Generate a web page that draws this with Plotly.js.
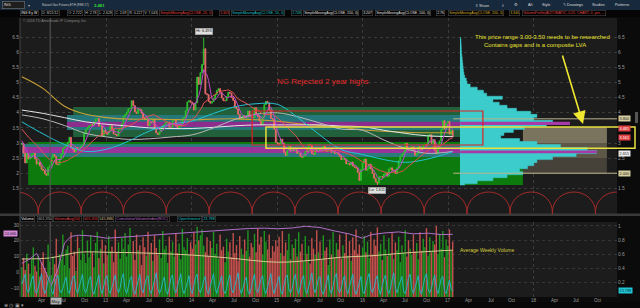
<!DOCTYPE html>
<html><head><meta charset="utf-8">
<script src="https://cdn.plot.ly/plotly-3.0.1.min.js"></script>
<style>html,body{margin:0;padding:0;background:#0b0b0b;overflow:hidden}#chart{width:640px;height:308px}</style>
</head><body><div id="chart"></div>
<script>
const W = 640, H = 308;
const FONT = 'Liberation Sans, Arial, sans-serif';

// ---------------- DATA ----------------
const startDate = '2012-01-06';
const priorCloses = [3.80,3.92,3.88,3.82,3.72,3.66,3.52,3.55,3.44,3.49,3.62,3.38,3.39,3.27,3.36,3.26,3.08,3.10,2.95];
const weeklyClose = [
 2.99,2.67,2.34,2.65, 2.47,2.51,2.63,2.66, 2.47,2.30,2.37,2.24,2.13, 2.09,1.98,1.93,2.19, 2.26,2.51,2.62,2.56, 2.30,2.28,2.50,2.63,2.82,
 2.87,2.91,3.02,3.19, 2.85,2.78,2.70,2.85,2.78, 2.83,2.90,2.94,3.32, 3.44,3.51,3.57,3.61, 3.58,3.66,3.79,3.81,3.56, 3.59,3.23,3.43,3.35,
 3.29,3.37,3.57,3.45, 3.30,3.28,3.23,3.43, 3.47,3.64,3.88,3.94,4.02, 4.13,4.14,4.40,4.24, 4.03,3.98,4.13,4.10,3.99, 3.82,3.77,3.79,3.57,
 3.70,3.67,3.79,3.48, 3.33,3.28,3.37,3.48,3.57, 3.63,3.68,3.69,3.52, 3.52,3.74,3.78,3.56, 3.50,3.55,3.63,3.80,3.84, 4.07,4.36,4.40,4.35,
 4.31,4.09,4.33,5.18,4.94, 5.33,5.60,6.12,4.63, 4.60,4.38,4.32,4.37, 4.47,4.60,4.74,4.80, 4.67,4.49,4.40,4.40,4.54, 4.68,4.65,4.51,4.41,
 4.18,4.13,3.95,3.78, 3.81,3.90,3.84,3.84,4.06, 3.87,3.86,3.84,4.17, 3.96,3.88,3.73,3.60,3.86, 4.27,4.38,4.33,4.09, 3.81,3.79,3.46,3.02,
 2.99,2.95,3.13,2.99,2.69, 2.58,2.76,2.89,2.73, 2.84,2.74,2.78,2.66, 2.67,2.56,2.53,2.56, 2.73,2.71,2.96,2.93,2.65, 2.62,2.79,2.75,2.78,
 2.77,2.75,2.89,2.79,2.72, 2.77,2.80,2.69,2.72, 2.65,2.68,2.63,2.56, 2.45,2.48,2.47,2.31,2.32, 2.27,2.37,2.24,2.20, 2.17,2.03,1.76,2.12,
 2.34,2.47,2.10,2.14,2.30, 2.14,1.99,1.83,1.71, 1.67,1.88,1.89,1.87, 1.97,2.00,1.90,2.14,2.18, 2.10,2.10,1.99,2.18, 2.41,2.56,2.62,2.70,
 2.99,2.80,2.76,2.78,2.88, 2.77,2.59,2.65,2.88, 2.80,2.78,2.94,2.96,2.90, 3.25,3.28,2.99,3.11, 2.76,2.64,2.84,3.07, 3.45,3.74,3.46,3.66,
 3.72,3.29,3.42,3.20
];
const highDate = '2014-02-21', highValue = 6.493;
const lowDate = '2016-03-04', lowValue = 1.611;

const weeklyVolume = [
 0.42,0.55,0.38,0.61,0.47,0.33,0.52,0.70,0.44,0.36,0.58,0.29,0.49,0.63,0.41,0.35,0.74,0.50,0.31,0.57,0.46,0.82,0.39,0.60,0.53,0.88,
 0.45,0.67,0.72,0.40,0.91,0.58,0.64,0.37,0.85,0.69,0.52,0.94,0.61,0.48,0.79,0.56,0.87,0.63,0.42,0.76,0.92,0.55,0.68,0.81,0.47,0.73,
 0.59,0.86,0.64,0.71,0.49,0.95,0.62,0.77,0.54,0.83,0.68,0.90,0.57,0.74,0.97,0.61,0.79,0.52,0.88,0.66,0.73,0.45,0.84,0.70,0.58,0.92,
 0.63,0.76,0.51,0.87,0.69,0.60,0.81,0.55,0.93,0.67,0.72,0.48,0.85,0.64,0.78,0.57,0.89,0.62,0.75,0.53,0.96,0.70,0.66,0.83,0.59,0.77,
 0.68,0.91,0.74,0.99,0.80,0.87,0.95,0.72,0.63,0.84,0.58,0.79,0.69,0.92,0.61,0.75,0.54,0.88,0.66,0.71,0.49,0.82,0.64,0.77,0.56,0.90,
 0.62,0.73,0.51,0.86,0.68,0.59,0.81,0.65,0.94,0.57,0.76,0.70,0.89,0.63,0.97,0.74,0.85,0.60,0.93,0.78,0.67,0.88,0.55,0.72,0.64,0.80,
 0.71,0.85,0.62,0.93,0.58,0.77,0.66,0.89,0.53,0.74,0.69,0.82,0.57,0.91,0.64,0.75,0.50,0.86,0.61,0.72,0.47,0.83,0.68,0.59,0.94,0.63,
 0.78,0.52,0.87,0.65,0.70,0.45,0.81,0.60,0.92,0.56,0.76,0.67,0.88,0.54,0.73,0.62,0.90,0.58,0.79,0.51,0.84,0.66,0.95,0.61,0.74,0.57,
 0.69,0.86,0.63,0.78,0.55,0.92,0.60,0.81,0.72,0.98,0.64,0.75,0.52,0.87,0.67,0.58,0.83,0.61,0.90,0.54,0.77,0.66,0.85,0.49,0.73,0.62,
 0.94,0.57,0.80,0.68,0.59,0.88,0.64,0.76,0.53,0.91,0.65,0.82,0.70,0.97,0.58,0.84,0.63,0.79,0.74,1.00,0.61,0.89,0.68,0.93,0.56,0.81,
 0.72,0.95,0.66,0.78
];
const openInterest = [
 0.18,0.27,0.32,0.10,0.06,0.14,0.25,0.30,0.09,0.05,0.13,0.22,0.33,0.12,0.05,0.11,0.24,0.29,0.08,0.04,0.15,0.26,0.31,0.10,0.06,0.12,
 0.21,0.28,0.09,0.05,0.16,0.27,0.30,0.11,0.05,0.13,0.23,0.32,0.10,0.06,0.14,0.25,0.29,0.08,0.04,0.12,0.22,0.31,0.11,0.05,0.15,0.26,
 0.30,0.09,0.05,0.14,0.24,0.31,0.12,0.06,0.13,0.27,0.33,0.10,0.05,0.16,0.25,0.29,0.08,0.04,0.12,0.23,0.32,0.11,0.06,0.15,0.26,0.30,
 0.09,0.05,0.13,0.24,0.34,0.12,0.05,0.11,0.22,0.28,0.08,0.04,0.14,0.27,0.31,0.10,0.06,0.15,0.25,0.33,0.11,0.05,0.12,0.23,0.30,0.09,
 0.05,0.16,0.28,0.32,0.10,0.06,0.13,0.24,0.29,0.08,0.04,0.15,0.26,0.33,0.12,0.05,0.14,0.22,0.30,0.09,0.05,0.11,0.25,0.31,0.10,0.06,
 0.16,0.27,0.34,0.11,0.05,0.13,0.23,0.28,0.08,0.04,0.12,0.24,0.32,0.10,0.06,0.15,0.26,0.30,0.09,0.05,0.14,0.25,0.33,0.12,0.05,0.13,
 0.22,0.29,0.08,0.04,0.16,0.27,0.31,0.10,0.06,0.12,0.24,0.32,0.11,0.05,0.15,0.25,0.30,0.09,0.05,0.13,0.23,0.34,0.12,0.06,0.14,0.26,
 0.29,0.08,0.04,0.11,0.22,0.31,0.10,0.05,0.16,0.28,0.33,0.11,0.06,0.13,0.24,0.30,0.09,0.05,0.15,0.26,0.32,0.10,0.04,0.12,0.23,0.29,
 0.08,0.05,0.14,0.27,0.33,0.11,0.06,0.13,0.25,0.30,0.09,0.04,0.16,0.26,0.31,0.10,0.05,0.12,0.24,0.34,0.12,0.06,0.15,0.22,0.29,0.08,
 0.05,0.13,0.27,0.32,0.11,0.05,0.14,0.25,0.30,0.09,0.04,0.16,0.28,0.33,0.10,0.06,0.12,0.23,0.31,0.11,0.05,0.15,0.26,0.29,0.08,0.05,
 0.14,0.24,0.12,0.08
];

// long moving averages (quarterly points)
const maDates = ['2012-01-06','2012-04-06','2012-07-06','2012-10-05','2013-01-04','2013-04-05','2013-07-05','2013-10-04','2014-01-03','2014-04-04','2014-07-04','2014-10-03','2015-01-02','2015-04-03','2015-07-03','2015-10-02','2016-01-01','2016-04-01','2016-07-01','2016-09-30','2017-01-20'];
const sma50  = [3.70,3.30,2.95,2.72,2.80,3.06,3.40,3.62,3.73,3.98,4.20,4.30,4.28,3.82,3.26,2.78,2.62,2.45,2.36,2.46,2.71];
const sma100 = [3.93,3.80,3.58,3.32,3.20,3.12,3.14,3.20,3.27,3.50,3.78,3.95,4.00,3.86,3.66,3.46,3.42,3.10,2.82,2.66,2.72];
const sma150 = [4.09,3.98,3.84,3.70,3.62,3.56,3.50,3.48,3.48,3.52,3.57,3.60,3.60,3.60,3.60,3.56,3.54,3.42,3.32,3.24,3.21];
const sma200 = [5.19,4.80,4.22,3.95,3.84,3.79,3.79,3.78,3.77,3.79,3.80,3.77,3.72,3.64,3.58,3.52,3.44,3.39,3.36,3.34,3.34];

const cviDates = ['2012-01-06','2012-02-10','2012-03-09','2012-04-06','2012-05-11','2012-06-08','2012-07-06','2012-08-03','2012-09-07','2012-11-02','2013-01-04','2013-03-01','2013-05-03','2013-07-05','2013-09-06','2013-11-01','2014-01-03','2014-03-07','2014-05-02','2014-07-04','2014-09-05','2014-11-07','2015-01-02','2015-03-06','2015-05-01','2015-07-03','2015-09-04','2015-11-06','2016-01-01','2016-02-05','2016-04-01','2016-06-03','2016-08-05','2016-10-07','2016-12-02','2017-01-20'];
const cviValues = [5.7,8.5,12.0,4.0,-8.3,2.0,18.5,22.8,23.5,23.0,21.6,22.2,23.0,23.5,24.2,24.6,25.4,26.0,26.7,27.2,27.8,28.0,27.6,28.1,29.2,28.4,26.2,24.3,21.6,23.8,24.9,25.6,24.4,24.8,23.9,24.1];

const volAvgDates = ['2012-01-06','2012-05-04','2012-09-07','2013-01-04','2013-06-07','2014-01-03','2014-06-06','2015-01-02','2015-06-05','2015-10-02','2016-02-05','2016-07-01','2017-01-20'];
const volAvgValues = [0.535,0.55,0.63,0.63,0.62,0.59,0.55,0.49,0.52,0.56,0.58,0.62,0.66];

// volume profile (price level -> relative volume)
const profPrice = [6.5,6.4,6.3,6.2,6.1,6.0,5.9,5.8,5.7,5.6,5.5,5.4,5.3,5.2,5.1,5.0,4.9,4.8,4.7,4.6,4.5,4.4,4.3,4.2,4.1,4.0,3.9,3.8,3.7,3.6,3.5,3.4,3.3,3.2,3.1,3.0,2.9,2.8,2.7,2.6,2.5,2.4,2.3,2.2,2.1,2.0,1.9,1.8,1.7,1.6];
const profVol   = [0.5,0.6,0.7,0.8,0.9,1.0,1.2,1.4,1.6,1.8,2.0,2.2,2.5,3.0,4.0,4.5,6.5,11,15,17,27,21,25,30,36,45,49,47,59,55,41,34,28,26,38,49,64,81,87,74,59,49,47,43,38,40,30,21,11,3];

// price zones (value areas)
const zoneFrom = ['2012-08-12','2012-07-17','2012-07-17','2012-02-02','2012-01-08','2012-01-08','2017-11-16','2017-11-16','2017-11-16'];
const zoneTo   = ['2017-02-21','2017-02-21','2017-02-21','2017-11-16','2017-02-21','2017-02-21','2018-11-10','2018-11-10','2018-11-10'];
const zoneLow  = [3.20,3.43,3.53,1.61,2.54,2.67,3.00,2.50,1.97];
const zoneHigh = [4.19,3.93,3.70,3.03,2.97,2.87,3.53,3.00,2.50];
const zoneStyle = ['#21603a','#24787a','#8c2c8c','#0c7a0c','#2c7a7c','#9a339a','#7a735e','#5c5747','#46423a'];
const pocFrom = ['2017-02-21','2017-02-21'], pocTo = ['2018-06-05','2018-09-28'];
const pocLow = [3.60,2.66], pocHigh = [3.70,2.75];
const redBox = {from:'2014-09-16', to:'2017-05-29', low:2.934, high:4.06};
const yellowBox = {from:'2014-11-14', low:2.83, high:3.53};
const refLevels = [3.80, 2.00];
const refFrom = '2017-01-22';
const cycleDates = ['2011-09-15','2012-03-16','2012-09-15','2013-03-15','2013-09-14','2014-03-16','2014-09-16','2015-03-18','2015-09-18','2016-03-20','2016-09-20','2017-03-22','2017-09-22','2018-03-22','2018-09-22','2019-03-24'];
const cursorDate = '2012-05-06';

const tickDates = ['2012-04-01','2012-07-01','2012-10-01','2013-01-01','2013-04-01','2013-07-01','2013-10-01','2014-01-01','2014-04-01','2014-07-01','2014-10-01','2015-01-01','2015-04-01','2015-07-01','2015-10-01','2016-01-01','2016-04-01','2016-07-01','2016-10-01','2017-01-01','2017-04-01','2017-07-01','2017-10-01','2018-01-01','2018-04-01','2018-07-01','2018-10-01'];
const tickLabels = ['Apr','Jul','Oct','13','Apr','Jul','Oct','14','Apr','Jul','Oct','15','Apr','Jul','Oct','16','Apr','Jul','Oct','17','Apr','Jul','Oct','18','Apr','Jul','Oct'];
const yearLines = ['2013-01-01','2014-01-01','2015-01-01','2016-01-01','2017-01-01','2018-01-01'];
const priceTicks = [1.5,2,2.5,3,3.5,4,4.5,5,5.5,6,6.5];
const volTicks = [0.2,0.4,0.6,0.8,1], volTickText = ['0.2','0.4','0.6','0.8','1'];
const cviTicks = [-10,0,10,20,30];

// ---------------- DERIVED ----------------
const t0 = Date.parse(startDate);
const dates = weeklyClose.map((_, i) => new Date(t0 + i * 7 * 864e5).toISOString().slice(0, 10));
const opens = weeklyClose.map((c, i) => i === 0 ? priorCloses[priorCloses.length - 1] : weeklyClose[i - 1]);
const highs = weeklyClose.map((c, i) => dates[i] === highDate ? highValue : Math.max(c, opens[i]));
const lows = weeklyClose.map((c, i) => dates[i] === lowDate ? lowValue : Math.min(c, opens[i]));
const allCloses = priorCloses.concat(weeklyClose);
function sma(n) {
  return weeklyClose.map((_, i) => {
    const j = i + priorCloses.length;
    if (j - n + 1 < 0) return null;
    let s = 0; for (let k = j - n + 1; k <= j; k++) s += allCloses[k];
    return s / n;
  });
}
const sma20 = sma(20), sma5 = sma(5);
const volColors = weeklyClose.map((c, i) => c >= opens[i] ? '#1f941f' : '#c4504c');

// ---------------- LAYOUT HELPERS ----------------
const xRange = ['2011-12-29', '2018-12-23'];
const xDom = [20 / W, 617 / W];
const px = x => x / W, py = y => 1 - y / H;
function dateToPaper(d) {
  const a = Date.parse(xRange[0]), b = Date.parse(xRange[1]);
  return xDom[0] + (Date.parse(d) - a) / (b - a) * (xDom[1] - xDom[0]);
}
function txt(text, x, y, color, size, extra) {
  return Object.assign({xref:'paper', yref:'paper', x:px(x), y:py(y), text, showarrow:false,
    xanchor:'left', yanchor:'middle', font:{family:FONT, size, color}}, extra || {});
}
const boxed = {bgcolor:'#000', bordercolor:'#4a4a4a', borderwidth:0.6, borderpad:0.6};

// ---------------- TRACES ----------------
const traces = [];
traces.push({type:'scatter', mode:'lines', x:profVol, y:profPrice, xaxis:'x2', yaxis:'y', fill:'tozerox',
  fillcolor:'#3ccccc', line:{color:'#3ccccc', width:0.5, shape:'vhv'}, hoverinfo:'skip'});
traces.push({type:'candlestick', x:dates, open:opens, high:highs, low:lows, close:weeklyClose, xaxis:'x', yaxis:'y',
  increasing:{line:{color:'#2fbf2f', width:1}, fillcolor:'#2fbf2f'},
  decreasing:{line:{color:'#e86a6a', width:1}, fillcolor:'#e86a6a'}, whiskerwidth:0, hoverinfo:'skip'});
const lineT = (x, y, color, yaxis, w, shape) => ({type:'scatter', mode:'lines', x, y, xaxis:'x', yaxis,
  line:{color, width:w || 1, shape:shape || 'linear', smoothing:1}, hoverinfo:'skip'});
traces.push(lineT(maDates, sma200, '#c9a235', 'y', 1.1, 'spline'));
traces.push(lineT(maDates, sma150, '#e6e6e6', 'y', 1, 'spline'));
traces.push(lineT(maDates, sma100, '#b8b8b8', 'y', 1, 'spline'));
traces.push(lineT(maDates, sma50, '#22c4d4', 'y', 1, 'spline'));
traces.push(lineT(dates, sma20, '#e05252', 'y', 1));
traces.push(lineT(dates, sma5, '#c04ac8', 'y', 1));
traces.push({type:'scatter', mode:'markers', x:[dates[0]], y:[3], xaxis:'x', yaxis:'y4', marker:{opacity:0}, hoverinfo:'skip'});
traces.push({type:'scatter', mode:'markers', x:[dates[0]], y:[0.5], xaxis:'x', yaxis:'y2', marker:{opacity:0}, hoverinfo:'skip'});
traces.push({type:'bar', x:dates, y:weeklyVolume, xaxis:'x', yaxis:'y3', width:6 * 864e5,
  marker:{color:volColors, line:{width:0}}, hoverinfo:'skip'});
traces.push(lineT(dates, openInterest, '#22b8c8', 'y3', 0.9));
traces.push(lineT(volAvgDates, volAvgValues, '#d8c890', 'y3', 1, 'spline'));
traces.push(lineT(cviDates, cviValues, '#b070c8', 'y5', 1));

// ---------------- SHAPES ----------------
const shapes = [];
const rectP = (y0, y1, color, x0, x1) => ({type:'rect', xref:'paper', yref:'paper', x0:px(x0 || 0), x1:px(x1 === undefined ? W : x1), y0:py(y1), y1:py(y0), fillcolor:color, line:{width:0}, layer:'below'});
shapes.push(rectP(0, 10, '#172a3d'));
shapes.push(rectP(10, 17, '#050505'));
shapes.push(rectP(213.5, 216, '#3a3a3a'));
shapes.push(rectP(216, 222, '#0b0b0b'));
shapes.push(rectP(302, 308, '#080808'));
shapes.push(rectP(112, 123, '#555555', 635, 638));
zoneFrom.forEach((f, i) => shapes.push({type:'rect', xref:'x', yref:'y', x0:f, x1:zoneTo[i], y0:zoneLow[i], y1:zoneHigh[i],
  fillcolor:zoneStyle[i], line:{width:0}, layer:'between'}));
pocFrom.forEach((f, i) => shapes.push({type:'rect', xref:'x', yref:'y', x0:f, x1:pocTo[i], y0:pocLow[i], y1:pocHigh[i],
  fillcolor:'#a63aa6', line:{width:0}, layer:'above'}));
refLevels.forEach(v => shapes.push({type:'line', xref:'x', yref:'y', x0:refFrom, x1:xRange[1], y0:v, y1:v,
  line:{color:'#bdb38c', width:1}, layer:'above'}));
shapes.push({type:'rect', xref:'x', yref:'y', x0:redBox.from, x1:redBox.to, y0:redBox.low, y1:redBox.high,
  line:{color:'#e02020', width:1.2}, fillcolor:'rgba(0,0,0,0)', layer:'above'});
shapes.push({type:'rect', xref:'paper', yref:'y', x0:dateToPaper(yellowBox.from), x1:px(635), y0:yellowBox.low, y1:yellowBox.high,
  line:{color:'#e8e040', width:1.5}, fillcolor:'rgba(0,0,0,0)', layer:'above'});
for (let i = 0; i < cycleDates.length - 1; i++) {
  shapes.push({type:'circle', xref:'x', yref:'y2', x0:cycleDates[i], x1:cycleDates[i + 1], y0:-1, y1:1,
    line:{color:'#a52a2a', width:1}, layer:'above'});
}
shapes.push({type:'line', xref:'x', yref:'paper', x0:cursorDate, x1:cursorDate, y0:py(297), y1:py(18), line:{color:'#5a5a5a', width:1}, layer:'above'});
shapes.push({type:'line', xref:'paper', yref:'paper', x0:px(20), x1:px(20), y0:py(297), y1:py(18), line:{color:'#444', width:1}, layer:'above'});

// ---------------- ANNOTATIONS ----------------
const ann = [];
ann.push(txt('/NG', 2, 5, '#dddddd', 4.2, {bgcolor:'#1e1e1e', bordercolor:'#777', borderwidth:0.6, borderpad:0.8, width:20, align:'left'}));
ann.push(txt('▾', 26, 5, '#aaa', 4));
ann.push(txt('Natural Gas Futures,ETH (FEB 17)', 40, 5, '#c8c8c8', 3.0));
ann.push(txt('<b>3.481</b>', 92, 5, '#33dd33', 4.2));
[['⇪ Share',473],['⤓',500],['⚙',512],['Alt',526],['Style',540],['✎ Drawings',561],['Studies',590],['Patterns',613]].forEach(([t, x]) =>
  ann.push(txt(t, x, 5, '#dddddd', 3.8)));
[['/NG 8 y W',20,'#ffffff'],['D: 8/21/12',41,'#cccccc'],['O: 2.722',67,'#cccccc'],['H: 2.78',84,'#cccccc'],['L: 2.628',98,'#cccccc'],
 ['C: 2.69',114,'#cccccc'],['R: 0.227',128,'#cccccc'],['V: 7,043',143,'#cccccc'],
 ['SimpleMovingAvg(CLOSE, 20, 0)',159,'#e04848'],['3.303',219,'#e04848'],
 ['SimpleMovingAvg(CLOSE, 50, 0)',231,'#20c8d0'],['2.708',291,'#20c8d0'],
 ['SimpleMovingAvg(CLOSE, 150, 0)',303,'#e0e0e0'],['3.207',362,'#e0e0e0'],
 ['SimpleMovingAvg(CLOSE, 100, 0)',375,'#e0e0e0'],['2.76',436,'#e0e0e0'],
 ['SimpleMovingAvg(CLOSE, 200, 0)',448,'#d8b030'],['3.346',509,'#d8b030'],
 ['VolumeProfile(AUTOMATIC, 0.25, CHART, 0, yes, ...',522,'#e04848']].forEach(([t, x, c]) =>
  ann.push(txt(t, x, 13.5, c, 3.5, boxed)));
ann.push(txt('© 2016 TD Ameritrade IP Company, Inc.', 21, 20.5, '#8a8a8a', 3.6));
[['Volume',20,'#e8e8e8'],['601,350',37,'#bbbbbb'],['VolumeAvg(50)',53,'#e04848'],['601,350',83,'#e04848'],['545,886',98,'#d8c890'],
 ['CumulativeVolumeIndex(ROC)',115,'#c070d0'],['OpenInterest:',177,'#20c8d0'],['23,788',202,'#20c8d0']].forEach(([t, x, c]) =>
  ann.push(txt(t, x, 219, c, 3.8, boxed)));
ann.push(txt('NG Rejected 2 year highs', 275, 81, '#e02a2a', 8));
ann.push(txt('This price range 3.00-3.50 needs to be researched', 542, 37, '#e8e030', 6, {xanchor:'center'}));
ann.push(txt('Contains gaps and is a composite LVA', 535, 45, '#e8e030', 6, {xanchor:'center'}));
ann.push({xref:'paper', yref:'paper', x:px(583), y:py(124), ax:-21, ay:-70, text:'', showarrow:true,
  arrowhead:2, arrowsize:1.6, arrowwidth:1.6, arrowcolor:'#f0e830', standoff:0});
ann.push(txt('Average Weekly Volume', 458, 250, '#d8d040', 5));
ann.push({xref:'x', yref:'y', x:highDate, y:highValue, yshift:6, text:'Hi: 6.493', showarrow:false,
  font:{family:FONT, size:3.8, color:'#111'}, bgcolor:'#e0e0e0', bordercolor:'#999', borderwidth:0.5, borderpad:0.8});
ann.push({xref:'x', yref:'y', x:lowDate, y:lowValue, yshift:-6, text:'Lo: 1.611', showarrow:false,
  font:{family:FONT, size:3.8, color:'#111'}, bgcolor:'#e0e0e0', bordercolor:'#999', borderwidth:0.5, borderpad:0.8});
[[3.80,'3.800','#d8cfa0','#222'],[3.481,'3.481','#e04040','#fff'],[3.17,'3.161','#e04040','#fff'],[2.655,'2.655','#eeeeee','#222'],[2.00,'2.000','#d8cfa0','#222']].forEach(([v, t, bg, fc]) =>
  ann.push({xref:'paper', yref:'y', x:px(618), y:v, xanchor:'left', yanchor:'middle', text:t, showarrow:false,
    font:{family:FONT, size:3.8, color:fc}, bgcolor:bg, borderpad:0.6}));
ann.push(txt('24.066', 3, 233.5, '#222', 3.8, {bgcolor:'#d88ad8', borderpad:0.6}));
ann.push(txt('23,788', 618, 290, '#033', 3.8, {bgcolor:'#22c8d8', borderpad:0.6}));
tickDates.forEach((d, i) => ann.push({xref:'x', yref:'paper', x:d, y:py(300.5), text:tickLabels[i], showarrow:false,
  xanchor:'center', yanchor:'middle', font:{family:FONT, size:4.6, color:'#9a9a9a'}}));
ann.push({xref:'x', yref:'paper', x:cursorDate, y:py(300.5), text:'May', showarrow:false, xanchor:'left', yanchor:'middle',
  font:{family:FONT, size:4.2, color:'#111'}, bgcolor:'#b0b0b0', borderpad:0.6});
ann.push(txt('⊕ ◷ ▣ ▾', 2, 305.5, '#aaaaaa', 4.5));

// ---------------- LAYOUT ----------------
const tickFont = {family:FONT, size:4.8, color:'#9a9a9a'};
const priceRange = [1.444, 7.139];
const layout = {
  width:W, height:H, autosize:false, margin:{l:0, r:0, t:0, b:0},
  paper_bgcolor:'#0b0b0b', plot_bgcolor:'#1c1c1c', showlegend:false, barmode:'overlay',
  xaxis:{domain:xDom, anchor:'y3', type:'date', range:xRange, tickmode:'array', tickvals:yearLines,
    showticklabels:false, ticks:'', showgrid:true, gridcolor:'#3c3c3c', griddash:'dot', gridwidth:1,
    zeroline:false, showline:false, rangeslider:{visible:false}, fixedrange:true},
  xaxis2:{overlaying:'x', anchor:'y', range:[-280.2, 100], visible:false, fixedrange:true},
  yaxis:{domain:[py(190), py(18)], anchor:'x', side:'right', range:priceRange, tickmode:'array', tickvals:priceTicks,
    tickfont:tickFont, ticks:'', showgrid:true, gridcolor:'#3a3a3a', griddash:'dot', zeroline:false, fixedrange:true},
  yaxis4:{overlaying:'y', anchor:'x', side:'left', range:priceRange, tickmode:'array', tickvals:priceTicks,
    tickfont:tickFont, ticks:'', showgrid:false, zeroline:false, fixedrange:true},
  yaxis2:{domain:[py(214), py(190)], anchor:'x', range:[-0.1, 1.1], showticklabels:false, showgrid:false, zeroline:false, fixedrange:true},
  yaxis3:{domain:[py(297), py(222)], anchor:'x', side:'right', range:[0, 1.056], tickmode:'array', tickvals:volTicks, ticktext:volTickText,
    tickfont:tickFont, ticks:'', showgrid:true, gridcolor:'#353535', griddash:'dot', zeroline:false, fixedrange:true},
  yaxis5:{overlaying:'y3', anchor:'x', side:'left', range:[-15.7, 31.9], tickmode:'array', tickvals:cviTicks,
    tickfont:tickFont, ticks:'', showgrid:false, zeroline:false, fixedrange:true},
  shapes, annotations:ann
};
Plotly.newPlot('chart', traces, layout, {staticPlot:true, displayModeBar:false});
</script></body></html>
